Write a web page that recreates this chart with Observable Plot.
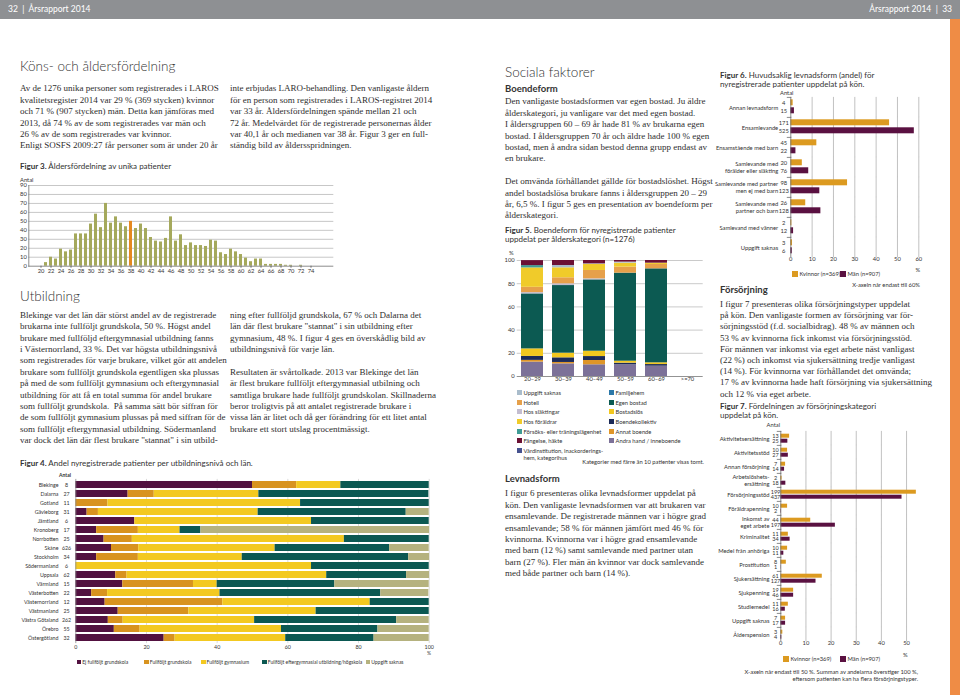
<!DOCTYPE html>
<html><head><meta charset="utf-8">
<script src="https://cdn.jsdelivr.net/npm/d3@7"></script>
<script src="https://cdn.jsdelivr.net/npm/@observablehq/plot@0.6"></script>
<style>
html,body{margin:0;padding:0;background:#fff;}
#page{position:relative;width:960px;height:695px;overflow:hidden;background:#fff;color:#333;font-family:Lato,"Noto Sans",sans-serif;}
.a{position:absolute;white-space:nowrap;}
.body{font-family:"Liberation Serif","DejaVu Serif",serif;font-size:9px;line-height:11.4px;color:#2e2e2e;}
.h1{font-family:Lato,sans-serif;font-weight:300;font-size:13.5px;line-height:15px;color:#333;}
.h2{font-family:Lato,sans-serif;font-weight:700;font-size:9.5px;line-height:11px;color:#333;}
.ft{font-family:Lato,sans-serif;font-size:8px;line-height:9px;color:#333;}
.ft b{font-weight:700;}
.sm{font-family:Lato,sans-serif;font-size:5.8px;line-height:7px;color:#333;}
.xs{font-family:Lato,sans-serif;font-size:5px;line-height:7px;color:#333;}
.hd{font-family:Lato,sans-serif;font-size:8.5px;line-height:19px;color:#fff;}
.sw{position:absolute;}
</style></head><body><div id="page"></div>
<script>
// ================= DATA =================
// Figur 3 – age distribution
const ages3 = [20,21,22,23,24,25,26,27,28,29,30,31,32,33,34,35,36,37,38,39,40,41,42,43,44,45,46,47,48,49,50,51,52,53,54,55,56,57,58,59,60,61,62,63,64,65,66,67,68,69,70,71,72,73,74,75,76];
const counts3 = [0,4,10,8,19,16,18,36,36,36,47,58,43,70,48,55,48,44,50,42,47,42,32,28,27,31,55,28,35,23,26,23,23,22,29,28,15,13,19,16,13,9,5,8,8,2,2,2,2,1,1,0,1,0,0,0,0];
const medianAge3 = 38;
const yTicks3 = [0,10,20,30,40,50,60,70,80,90];
const xTicks3 = [20,22,24,26,28,30,32,34,36,38,40,42,44,46,48,50,52,54,56,58,60,62,64,66,68,70,72,74];

// Figur 4 – education level per county (%)
const regions4 = ["Blekinge","Dalarna","Gotland","Gävleborg","Jämtland","Kronoberg","Norrbotten","Skåne","Stockholm","Södermanland","Uppsala","Värmland","Västerbotten","Västernorrland","Västmanland","Västra Götaland","Örebro","Östergötland"];
const antal4 = [8,27,11,31,6,17,25,626,34,6,62,15,22,12,25,262,55,32];
const cats4 = ["Ej fullföljt grundskola","Fullföljt grundskola","Fullföljt gymnasium","Fullföljt eftergymnasial utbildning/högskola","Uppgift saknas"];
const ejGrund4 = [50,14.8,0,3.2,16.7,5.9,8,10.1,5.9,0,11.3,13.3,4.5,8.3,12,9.2,10.9,25];
const grund4   = [12.5,7.4,9.1,3.2,0,11.8,8,7.7,11.8,0,3.2,20,4.5,33.3,20,4.2,7.3,3.1];
const gymn4    = [12.5,29.6,54.5,45.2,50,11.8,60,38.6,29.4,66.7,56.5,6.7,31.8,41.7,36,37.2,40,31.3];
const efter4   = [25,48.1,36.4,41.9,33.3,5.9,24,32.4,47.1,33.3,22.6,33.3,45.5,16.7,32,40.2,27.3,25];
const saknas4  = [0,0,0,6.5,0,64.7,0,11.2,5.9,0,6.5,26.7,13.6,0,0,9.2,14.5,15.6];
const xTicks4 = [0,20,40,60,80,100];

// Figur 5 – housing per age group (%)
const ageGroups5 = ["20–29","30–39","40–49","50–59","60–69",">=70"];
const cats5 = ["Andra hand / inneboende","Annat boende","Boendekollektiv","Bostadslös","Egen bostad","Familjehem","Vårdinstitution, inackorderings-hem, kategorihus","Hos släktingar","Hotell","Hos föräldrar","Försöks- eller träningslägenhet","Uppgift saknas","Fängelse, häkte"];
const andraHand5   = [12.4,10.9,10.1,10.1,8.9,0];
const annat5       = [1.5,1.2,3.7,0,0,0];
const kollektiv5   = [3.4,4.0,3.4,1.4,1.4,0];
const bostadslos5  = [6.5,4.0,4.6,1.7,1.5,0];
const egen5        = [47.4,58.3,61.5,75.9,81.0,0];
const familjehem5  = [0,0,0,0,0,0];
const vard5        = [0,0,0,0,0,0];
const slakt5       = [1.1,1.5,0.9,0,0,0];
const hotell5      = [4.6,5.2,7.2,5.2,3.8,0];
const foraldrar5   = [16.7,8.6,5.2,3.4,1.1,0];
const forsok5      = [2.0,0,0,0,0,0];
const uppgift5     = [0,2.0,0.5,0.9,0,0];
const fangelse5    = [4.3,4.3,2.9,1.4,2.3,0];
const yTicks5 = [0,20,40,60,80,100];
const legendLeft5 = ["Uppgift saknas","Hotell","Hos släktingar","Hos föräldrar","Försöks- eller träningslägenhet","Fängelse, häkte","Vårdinstitution, inackorderings-hem, kategorihus"];
const legendRight5 = ["Familjehem","Egen bostad","Bostadslös","Boendekollektiv","Annat boende","Andra hand / inneboende"];

// Figur 6 – living arrangement by sex
const cats6 = ["Annan levnadsform","Ensamlevande","Ensamstående med barn","Samlevande med\nförälder eller släkting","Samlevande med partner\nmen ej med barn","Samlevande med\npartner och barn","Samlevand med vänner","Uppgift saknas"];
const kvinnorN6 = [4,171,45,20,98,26,2,3];
const manN6 = [15,525,22,76,123,128,12,6];
const kvinnorPct6 = [1.1,46.3,12.2,5.4,26.6,7.0,0.5,0.8];
const manPct6 = [1.7,57.9,2.4,8.4,13.6,14.1,1.3,0.7];
const xTicks6 = [0,10,20,30,40,50,60];

// Figur 7 – support type by sex
const cats7 = ["Aktivitetsersättning","Aktivitetsstöd","Annan försörjning","Arbetslöshets-\nersättning","Försörjningsstöd","Föräldrapenning","Inkomst av\neget arbete","Kriminalitet","Medel från anhöriga","Prostitution","Sjukersättning","Sjukpenning","Studiemedel","Uppgift saknas","Ålderspension"];
const kvinnorN7 = [13,10,7,2,199,10,44,11,10,8,61,19,11,7,3];
const manN7 = [25,27,14,18,437,2,197,34,11,1,127,46,16,17,4];
const kvinnorPct7 = [3.5,2.7,1.9,0.5,53.9,2.7,11.9,3.0,2.7,2.2,16.5,5.1,3.0,1.9,0.8];
const manPct7 = [2.8,3.0,1.5,2.0,48.2,0.2,21.7,3.7,1.2,0.1,14.0,5.1,1.8,1.9,0.4];
const xTicks7 = [0,10,20,30,40,50];

const sexes = ["Kvinnor (n=369)","Män (n=907)"];

// ================= STYLE =================
const colOlive = "#a5a95c", colMedian = "#e5891f";
const colors4 = ["#521140","#d8931f","#f3c921","#0b5852","#b5b27f"];
const colors5 = ["#7c7198","#df9628","#1c2b58","#f2c71f","#0c5a52","#2c78a8","#46528f","#c3bdd0","#e6a04a","#f0cb2a","#3f9c95","#a9bccb","#6b1034"];
const sexColors = ["#dc9a20","#5a1141"];

const page = document.getElementById("page");
function div(cls, x, y, html, css) {
  const d = document.createElement("div");
  d.className = "a " + cls;
  d.style.left = x + "px"; d.style.top = y + "px";
  d.innerHTML = html;
  if (css) Object.assign(d.style, css);
  page.appendChild(d);
  return d;
}
function lines(cls, x, yCenter, arr, lh) {
  const d = div(cls, x, yCenter - lh / 2, arr.join("<br>"));
  d.style.lineHeight = lh + "px";
  return d;
}
function rightText(cls, xRight, yCenter, arr, lh) {
  const d = lines(cls, xRight, yCenter, arr, lh);
  d.style.transform = "translateX(-100%)"; d.style.textAlign = "right";
  return d;
}
function centerText(cls, xC, yCenter, txt, lh) {
  const d = lines(cls, xC, yCenter, [txt], lh);
  d.style.transform = "translateX(-50%)";
  return d;
}
function swatch(x, yC, size, color) {
  const s = document.createElement("div");
  s.className = "sw";
  Object.assign(s.style, {left: x + "px", top: (yC - size / 2) + "px", width: size + "px", height: size + "px", background: color});
  page.appendChild(s);
}
function place(svg, x, y) {
  svg.style.position = "absolute"; svg.style.left = x + "px"; svg.style.top = y + "px";
  svg.style.overflow = "visible"; svg.style.maxWidth = "none";
  page.appendChild(svg);
}
const baseStyle = {fontFamily: "Lato, sans-serif", fontSize: "5.8px", color: "#333", background: "transparent", overflow: "visible"};

// ================= PAGE FRAME =================
div("", 0, 0, "", {width: "960px", height: "19px", background: "#8e9093"});
div("hd", 8, 0, "32&nbsp;&nbsp;|&nbsp;&nbsp;Årsrapport 2014");
rightText("hd", 952, 9.5, ["Årsrapport 2014&nbsp;&nbsp;|&nbsp;&nbsp;33"], 19);
div("", 950, 19, "", {width: "10px", height: "676px", background: "#ef8c45"});

// ================= TEXT =================
const LH = 11.4;
lines("h1", 20, 66, ["Köns- och åldersfördelning"], 15);
lines("body", 20, 89, [
  "Av de 1276 unika personer som registrerades i LAROS",
  "kvalitetsregister 2014 var 29 % (369 stycken) kvinnor",
  "och 71 % (907 stycken) män. Detta kan jämföras med",
  "2013, då 74 % av de som registrerades var män och",
  "26 % av de som registrerades var kvinnor.",
  "Enligt SOSFS 2009:27 får personer som är under 20 år"], LH);
lines("body", 230, 89, [
  "inte erbjudas LARO-behandling. Den vanligaste åldern",
  "för en person som registrerades i LAROS-registret 2014",
  "var 33 år. Åldersfördelningen spände mellan 21 och",
  "72 år. Medelvärdet för de registrerade personernas ålder",
  "var 40,1 år och medianen var 38 år. Figur 3 ger en full-",
  "ständig bild av åldersspridningen."], LH);

lines("h1", 20, 296, ["Utbildning"], 15);
lines("body", 20, 315.5, [
  "Blekinge var det län där störst andel av de registrerade",
  "brukarna inte fullföljt grundskola, 50 %. Högst andel",
  "brukare med fullföljd eftergymnasial utbildning fanns",
  "i Västernorrland, 33 %. Det var högsta utbildningsnivå",
  "som registrerades för varje brukare, vilket gör att andelen",
  "brukare som fullföljt grundskola egentligen ska plussas",
  "på med de som fullföljt gymnasium och eftergymnasial",
  "utbildning för att få en total summa för andel brukare",
  "som fullföljt grundskola.&nbsp; På samma sätt bör siffran för",
  "de som fullföljt gymnasium plussas på med siffran för de",
  "som fullföljt eftergymnasial utbildning. Södermanland",
  "var dock det län där flest brukare \"stannat\" i sin utbild-"], LH);
lines("body", 230, 315.5, [
  "ning efter fullföljd grundskola, 67 % och Dalarna det",
  "län där flest brukare \"stannat\" i sin utbildning efter",
  "gymnasium, 48 %. I figur 4 ges en överskådlig bild av",
  "utbildningsnivå för varje län.",
  "&nbsp;",
  "Resultaten är svårtolkade. 2013 var Blekinge det län",
  "är flest brukare fullföljt eftergymnasial utbilning och",
  "samtliga brukare hade fullföljt grundskolan. Skillnaderna",
  "beror troligtvis på att antalet registrerade brukare i",
  "vissa län är litet och då ger förändring för ett litet antal",
  "brukare ett stort utslag procentmässigt."], LH);

lines("h1", 505, 72, ["Sociala faktorer"], 15);
lines("h2", 505, 88, ["Boendeform"], 11);
lines("body", 505, 102, [
  "Den vanligaste bostadsformen var egen bostad. Ju äldre",
  "ålderskategori, ju vanligare var det med egen bostad.",
  "I åldersgruppen 60 – 69 år hade 81 % av brukarna egen",
  "bostad. I åldersgruppen 70 år och äldre hade 100 % egen",
  "bostad, men å andra sidan bestod denna grupp endast av",
  "en brukare.",
  "&nbsp;",
  "Det omvända förhållandet gällde för bostadslöshet. Högst",
  "andel bostadslösa brukare fanns i åldersgruppen 20 – 29",
  "år, 6,5 %. I figur 5 ges en presentation av boendeform per",
  "ålderskategori."], LH);

lines("h2", 505, 478, ["Levnadsform"], 11);
lines("body", 505, 494, [
  "I figur 6 presenteras olika levnadsformer uppdelat på",
  "kön. Den vanligaste levnadsformen var att brukaren var",
  "ensamlevande. De registrerade männen var i högre grad",
  "ensamlevande; 58 % för männen jämfört med 46 % för",
  "kvinnorna. Kvinnorna var i högre grad ensamlevande",
  "med barn (12 %) samt samlevande med partner utan",
  "barn (27 %). Fler män än kvinnor var dock samlevande",
  "med både partner och barn (14 %)."], LH);

lines("h2", 720, 289, ["Försörjning"], 11);
lines("body", 720, 304.5, [
  "I figur 7 presenteras olika försörjningstyper uppdelat",
  "på kön. Den vanligaste formen av försörjning var för-",
  "sörjningsstöd (f.d. socialbidrag). 48 % av männen och",
  "53 % av kvinnorna fick inkomst via försörjningsstöd.",
  "För männen var inkomst via eget arbete näst vanligast",
  "(22 %) och inkomst via sjukersättning tredje vanligast",
  "(14 %). För kvinnorna var förhållandet det omvända;",
  "17 % av kvinnorna hade haft försörjning via sjukersättning",
  "och 12 % via eget arbete."], 11.2);

// ================= FIGUR 3 =================
lines("ft", 20, 166.5, ["<b>Figur 3.</b> Åldersfördelning av unika patienter"], 9);
lines("sm", 20, 179, ["Antal"], 7);
const rows3 = ages3.map((a, i) => ({age: a, n: counts3[i]}));
place(Plot.plot({
  width: 340, height: 110,
  marginLeft: 28.3, marginRight: 6.7, marginTop: 15, marginBottom: 14.3,
  style: baseStyle,
  x: {type: "band", domain: ages3, paddingInner: 0.33, paddingOuter: 0.17, axis: null, label: null},
  y: {domain: [0, 90], axis: null, label: null},
  marks: [
    Plot.ruleY(yTicks3.slice(1), {stroke: "#b9b9b9", strokeWidth: 0.8}),
    Plot.barY(rows3, {x: "age", y: "n", fill: d => d.age === medianAge3 ? colMedian : colOlive}),
    Plot.ruleY([0], {stroke: "#6d6d6d", strokeWidth: 0.8}),
    Plot.frame({anchor: "left", stroke: "#6d6d6d", strokeWidth: 0.8}),
    Plot.axisY(yTicks3, {tickSize: 0, tickPadding: 2, label: null}),
    Plot.axisX(xTicks3, {tickSize: 2, tickPadding: 1, stroke: "#6d6d6d", label: null})
  ]
}), 0, 170);

// ================= FIGUR 4 =================
lines("ft", 20, 463.3, ["<b>Figur 4.</b> Andel nyregistrerade patienter per utbildningsnivå och län."], 9);
centerText("xs", 65, 475.7, "<b>Antal</b>", 7);
const vals4 = [ejGrund4, grund4, gymn4, efter4, saknas4];
const rows4 = [];
regions4.forEach((r, i) => cats4.forEach((c, j) => rows4.push({region: r, cat: c, v: vals4[j][i]})));
place(Plot.plot({
  width: 440, height: 185,
  marginLeft: 75.3, marginRight: 11.3, marginTop: 8.9, marginBottom: 11.9,
  style: {...baseStyle, fontSize: "5.3px"},
  x: {domain: [0, 100], axis: null, label: null},
  y: {domain: regions4, padding: 0.2, axis: null, label: null},
  color: {domain: cats4, range: colors4},
  marks: [
    Plot.ruleX(xTicks4.slice(1), {stroke: "#d2d2d2", strokeWidth: 0.8}),
    Plot.barX(rows4, {x: "v", y: "region", fill: "cat", order: cats4}),
    Plot.ruleX([0], {stroke: "#8a8a8a", strokeWidth: 0.8}),
    Plot.text(regions4, {x: () => 0, y: d => d, text: (d, i) => String(antal4[i]), dx: -9.3, textAnchor: "middle"}),
    Plot.axisY({tickSize: 0, tickPadding: 17.3, label: null}),
    Plot.axisX(xTicks4, {tickSize: 0, tickPadding: 1.6, label: null})
  ]
}), 0, 470);
lines("xs", 427, 653.5, ["%"], 7);
const leg4x = [76.7, 144.3, 201, 262.3, 365.7];
cats4.forEach((c, i) => { swatch(leg4x[i], 662, 4.5, colors4[i]); lines("xs", leg4x[i] + 5.5, 662, [c], 7); });

// ================= FIGUR 5 =================
lines("ft", 505, 230, ["<b>Figur 5.</b> Boendeform för nyregistrerade patienter", "uppdelat per ålderskategori (n=1276)"], 9);
lines("sm", 509, 252, ["%"], 7);
const vals5 = [andraHand5, annat5, kollektiv5, bostadslos5, egen5, familjehem5, vard5, slakt5, hotell5, foraldrar5, forsok5, uppgift5, fangelse5];
const rows5 = [];
cats5.forEach((c, j) => ageGroups5.forEach((g, i) => rows5.push({age: g, cat: c, v: vals5[j][i]})));
place(Plot.plot({
  width: 210, height: 145,
  marginLeft: 16.7, marginRight: 7.3, marginTop: 15, marginBottom: 14,
  style: baseStyle,
  x: {type: "band", domain: ageGroups5, paddingInner: 0.3, paddingOuter: 0.15, axis: null, label: null},
  y: {domain: [0, 100], axis: null, label: null},
  color: {domain: cats5, range: colors5},
  marks: [
    Plot.ruleY(yTicks5.slice(1), {stroke: "#bdbdbd", strokeWidth: 0.8}),
    Plot.barY(rows5, {x: "age", y: "v", fill: "cat", order: cats5}),
    Plot.ruleY([0], {stroke: "#777", strokeWidth: 0.8}),
    Plot.axisY(yTicks5, {tickSize: 0, tickPadding: 2.5, label: null}),
    Plot.axisX({tickSize: 0, tickPadding: 0.8, label: null})
  ]
}), 500, 245);
const col5 = Object.fromEntries(cats5.map((c, i) => [c, colors5[i]]));
const legLabel5 = c => c === "Vårdinstitution, inackorderings-hem, kategorihus" ? "Vårdinstitution, inackorderings-<br>hem, kategorihus" : c;
legendLeft5.forEach((c, i) => { const y = 392.7 + 9.6 * i; swatch(517, y, 5, col5[c]); div("sm", 523.5, y - 3.5, legLabel5(c)); });
legendRight5.forEach((c, i) => { const y = 392.7 + 9.6 * i; swatch(609, y, 5, col5[c]); div("sm", 615.5, y - 3.5, c); });
rightText("sm", 704, 461, ["Kategorier med färre än 10 patienter visas tomt."], 7);

// ================= FIGUR 6 & 7 =================
function grouped({cats, kPct, mPct, kN, mN, xMax, ticks, width, height, mL, mR, mT, mB, yPad, fyPad, labelPad, countDx, countSize, ext}) {
  const rows = [];
  cats.forEach((c, i) => {
    rows.push({cat: c, sex: sexes[0], pct: kPct[i], n: kN[i]});
    rows.push({cat: c, sex: sexes[1], pct: mPct[i], n: mN[i]});
  });
  const frameW = width - mL - mR;
  return Plot.plot({
    width, height, marginLeft: mL, marginRight: mR, marginTop: mT, marginBottom: mB,
    style: baseStyle,
    x: {domain: [0, xMax], axis: null, label: null},
    y: {domain: sexes, padding: yPad, axis: null, label: null},
    fy: {domain: cats, padding: fyPad, axis: null, label: null},
    color: {domain: sexes, range: sexColors},
    marks: [
      Plot.ruleX(ticks.slice(1), {stroke: "#b3b3b3", strokeWidth: 0.8, insetTop: -ext, insetBottom: -ext}),
      Plot.barX(rows, {x: "pct", y: "sex", fy: "cat", fill: "sex"}),
      Plot.ruleX([0], {stroke: "#6d6d6d", strokeWidth: 0.8, insetTop: -ext, insetBottom: -ext}),
      Plot.frame({anchor: "top", stroke: "#6d6d6d", strokeWidth: 0.8, insetLeft: -3.5, insetRight: frameW, insetTop: -ext}),
      Plot.text(rows, {x: () => 0, y: "sex", fy: "cat", text: d => String(d.n), dx: countDx, textAnchor: "middle", fontSize: countSize}),
      Plot.axisFy({anchor: "left", tickSize: 0, tickPadding: labelPad, lineHeight: 1.15, label: null}),
      Plot.axisX(ticks, {anchor: "bottom", tickSize: 0, tickPadding: 0.4, label: null})
    ]
  });
}

lines("ft", 720, 75, ["<b>Figur 6.</b> Huvudsaklig levnadsform (andel) för", "nyregistrerade patienter uppdelat på kön."], 9);
centerText("sm", 786.7, 92.7, "Antal", 7);
place(grouped({cats: cats6, kPct: kvinnorPct6, mPct: manPct6, kN: kvinnorN6, mN: manN6, xMax: 60, ticks: xTicks6,
  width: 230, height: 180, mL: 85.3, mR: 16.7, mT: 4.7, mB: 10.6, yPad: 0.19, fyPad: 0.1, labelPad: 12.6, countDx: -7, countSize: 5.8, ext: 1.1}), 705, 90);
lines("sm", 915.5, 269.5, ["%"], 7);
swatch(792, 273.5, 6, sexColors[0]); lines("sm", 799.5, 273.5, [sexes[0]], 7);
swatch(840, 273.5, 6, sexColors[1]); lines("sm", 847.5, 273.5, [sexes[1]], 7);
rightText("sm", 920, 284.5, ["X-axeln når endast till 60%"], 7);

lines("ft", 720, 406.7, ["<b>Figur 7.</b> Fördelningen av försörjningskategori", "uppdelat på kön."], 9);
centerText("sm", 773.3, 424.3, "Antal", 7);
place(grouped({cats: cats7, kPct: kvinnorPct7, mPct: manPct7, kN: kvinnorN7, mN: manN7, xMax: 54, ticks: xTicks7,
  width: 220, height: 235, mL: 75.3, mR: 8.9, mT: 7.3, mB: 9.7, yPad: 0.14, fyPad: 0.14, labelPad: 11.3, countDx: -5.3, countSize: 5.5, ext: 1.1}), 705, 420);
lines("sm", 903, 654.5, ["%"], 7);
swatch(783, 658.5, 6, sexColors[0]); lines("sm", 790.5, 658.5, [sexes[0]], 7);
swatch(840, 658.5, 6, sexColors[1]); lines("sm", 847.5, 658.5, [sexes[1]], 7);
rightText("sm", 918, 671, ["X-axeln når endast till 50 %. Summan av andelarna överstiger 100 %,", "eftersom patienten kan ha flera försörjningstyper."], 7);
</script></body></html>
